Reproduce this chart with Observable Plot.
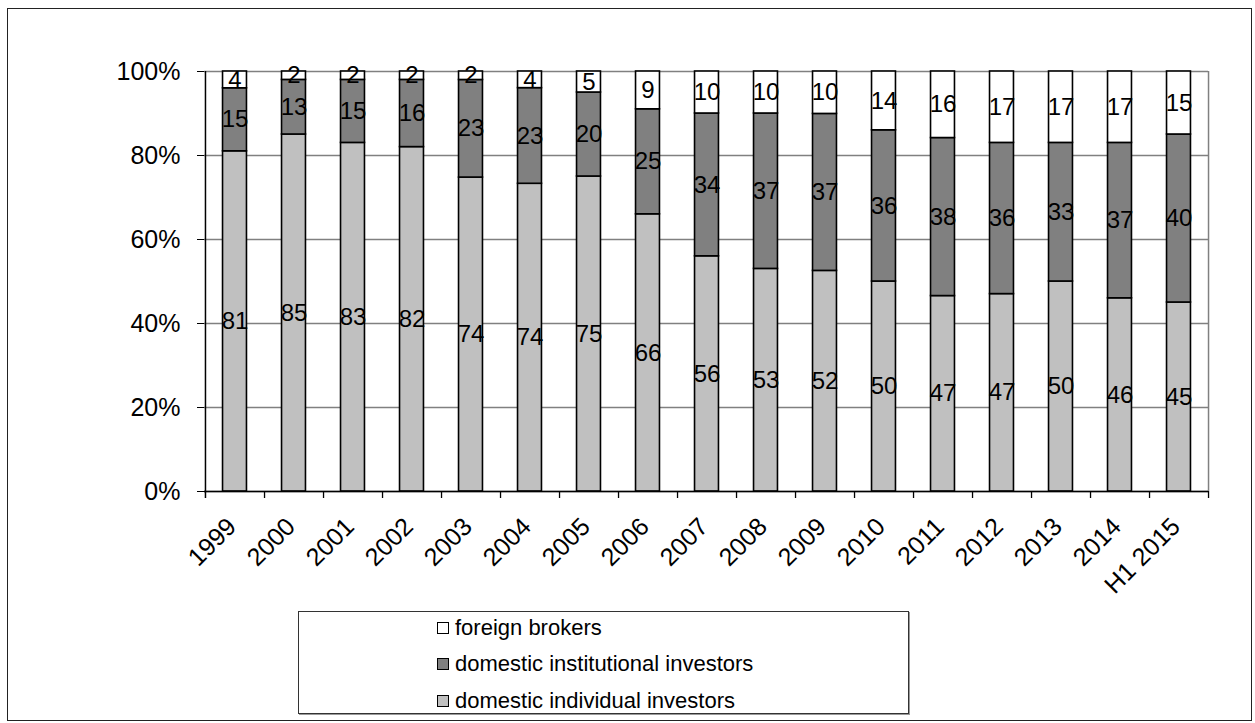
<!DOCTYPE html>
<html>
<head>
<meta charset="utf-8">
<script src="https://cdn.jsdelivr.net/npm/d3@7"></script>
<script src="https://cdn.jsdelivr.net/npm/@observablehq/plot@0.6"></script>
<style>
  body { margin: 0; background: #fff; font-family: "Liberation Sans", Arial, sans-serif; }
  #wrap { position: relative; width: 1255px; height: 723px; overflow: hidden; }
  #frame { position: absolute; left: 7px; top: 8px; width: 1245px; height: 713px; border: 1px solid #222; box-sizing: border-box; }
  #chart { position: absolute; left: 0; top: 0; }
  #legend { position: absolute; left: 298px; top: 611px; width: 611px; height: 103px; border: 1px solid #333; box-sizing: border-box; box-shadow: 1px 1px 0 #999; background: #fff; }
  .item { position: absolute; left: 138px; height: 26px; display: flex; align-items: center; font-size: 22px; color: #000; white-space: nowrap; }
  .sw { width: 12px; height: 12px; border: 1.5px solid #000; margin-right: 6px; box-sizing: border-box; }
</style>
</head>
<body>
<div id="wrap">
  <div id="frame"></div>
  <div id="chart"></div>
  <div id="legend"></div>
</div>
<script>
// ---- data ----
const categories = ["1999","2000","2001","2002","2003","2004","2005","2006","2007","2008","2009","2010","2011","2012","2013","2014","H1 2015"];
const individual    = [81,85,83,82,74,74,75,66,56,53,52,50,47,47,50,46,45];
const institutional = [15,13,15,16,23,23,20,25,34,37,37,36,38,36,33,37,40];
const foreign       = [4, 2, 2, 2, 2, 4, 5, 9,10,10,10,14,16,17,17,17,15];
const seriesNames = ["domestic individual investors","domestic institutional investors","foreign brokers"];
const seriesColors = ["#c0c0c0","#808080","#ffffff"];
const yTicks = [0, 0.2, 0.4, 0.6, 0.8, 1];
const legendOrder = ["foreign brokers","domestic institutional investors","domestic individual investors"];

const seriesValues = [individual, institutional, foreign];
const data = [];
categories.forEach((c, i) => {
  seriesNames.forEach((s, k) => data.push({cat: c, series: s, value: seriesValues[k][i]}));
});

// ---- layout ----
const W = 1255, H = 600, ML = 204, MR = 47, MT = 71, MB = 109;
const step = (W - ML - MR) / categories.length;
const inset = (step - 24) / 2;
const font = "Liberation Sans, Arial, sans-serif";

const stackOpts = {x: "cat", y: "value", z: "series", order: seriesNames, offset: "normalize"};

const chart = Plot.plot({
  width: W, height: H,
  marginLeft: ML, marginRight: MR, marginTop: MT, marginBottom: MB,
  style: {fontFamily: font, fontSize: "22px", color: "#000", background: "transparent", overflow: "visible"},
  x: {domain: categories, padding: 0, label: null},
  y: {domain: [0, 1], label: null},
  color: {domain: seriesNames, range: seriesColors},
  marks: [
    Plot.gridY(yTicks, {stroke: "#808080", strokeOpacity: 1, strokeWidth: 1.5}),
    Plot.ruleX([categories[categories.length - 1]], {dx: step / 2, y1: 1, y2: 0, stroke: "#808080", strokeWidth: 1.5}),
    Plot.barY(data, Plot.stackY({...stackOpts, fill: "series", stroke: "#000", strokeWidth: 1.6, insetLeft: inset, insetRight: inset})),
    Plot.text(data, Plot.stackY({...stackOpts, text: d => String(d.value), fill: "#000", fontSize: 24})),
    Plot.ruleY([0], {stroke: "#000", strokeWidth: 1.5}),
    Plot.ruleX([categories[0]], {dx: -step / 2, y1: 1, y2: 0, insetBottom: -7, stroke: "#000", strokeWidth: 1.5}),
    Plot.ruleX(categories, {dx: step / 2, y1: 0, y2: 0, insetBottom: -7, stroke: "#000", strokeWidth: 1.3}),
    Plot.axisY(yTicks, {tickFormat: d3.format(".0%"), tickSize: 7, tickPadding: 17, fontSize: 25, stroke: "#000", label: null}),
    Plot.axisX({tickSize: 0, tickRotate: -45, tickPadding: 31, dx: -3, fontSize: 25, label: null})
  ]
});
document.getElementById("chart").appendChild(chart);

// ---- legend ----
const legend = document.getElementById("legend");
const rowTops = [3, 39, 76];
legendOrder.forEach((name, j) => {
  const item = document.createElement("div");
  item.className = "item";
  item.style.top = rowTops[j] + "px";
  const sw = document.createElement("div");
  sw.className = "sw";
  sw.style.background = seriesColors[seriesNames.indexOf(name)];
  const label = document.createElement("span");
  label.textContent = name;
  item.appendChild(sw);
  item.appendChild(label);
  legend.appendChild(item);
});
</script>
</body>
</html>
